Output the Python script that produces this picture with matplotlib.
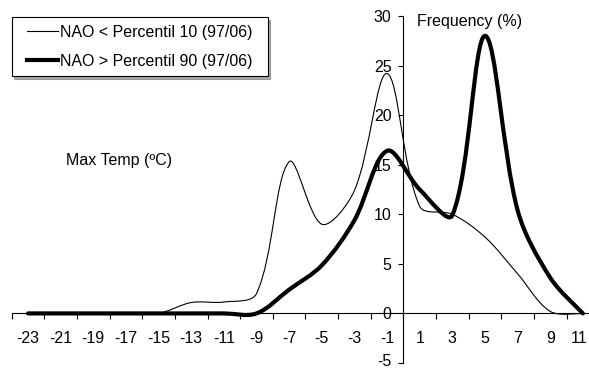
import matplotlib
matplotlib.use("Agg")
import matplotlib.pyplot as plt
import numpy as np
from matplotlib.path import Path
from matplotlib.patches import PathPatch
from matplotlib.lines import Line2D
from matplotlib.legend_handler import HandlerLine2D
from matplotlib.transforms import ScaledTranslation

plt.rcParams['font.family'] = ['Liberation Sans', 'DejaVu Sans']

# ---- data ----
temps = [-23, -21, -19, -17, -15, -13, -11, -9, -7, -5, -3, -1, 1, 3, 5, 7, 9, 11]
nao_low = [0, 0, 0, 0, 0, 1.1, 1.15, 2.0, 15.3, 9.0, 12.4, 24.2, 10.8, 10.0, 7.7, 4.0, 0.2, 0]
nao_high = [0, 0, 0, 0, 0, 0, 0, 0, 2.4, 4.85, 9.4, 16.4, 12.5, 9.9, 28.0, 10.4, 3.6, 0]
label_low = "NAO < Percentil 10 (97/06)"
label_high = "NAO > Percentil 90 (97/06)"
yticks = [-5, 0, 5, 10, 15, 20, 25, 30]
xlabels = temps
xtick_marks = list(range(-24, 12, 2))

FS = 11.5


def smooth_path(ax, xs, ys):
    """Excel-style smoothed line: cubic Bezier through every data point, with
    tangents weighted by the on-screen lengths of the neighbouring segments."""
    pts = ax.transData.transform(np.column_stack([xs, ys]).astype(float))
    n = len(pts)
    seg = np.hypot(*np.diff(pts, axis=0).T)
    verts = [pts[0]]
    codes = [Path.MOVETO]
    for i in range(n - 1):
        p0 = pts[max(i - 1, 0)]
        p1, p2 = pts[i], pts[i + 1]
        p3 = pts[min(i + 2, n - 1)]
        lp = seg[i - 1] if i > 0 else 0.0
        lc = seg[i]
        ln = seg[i + 1] if i + 2 < n else 0.0
        f1 = lc / (lp + lc) / 3 if lp + lc > 0 else 0
        f2 = lc / (lc + ln) / 3 if lc + ln > 0 else 0
        if i == 0:
            f1 = 1 / 6
        if i + 2 >= n:
            f2 = 1 / 6
        c1 = p1 + (p2 - p0) * f1
        c2 = p2 - (p3 - p1) * f2
        verts += [c1, c2, p2]
        codes += [Path.CURVE4] * 3
    verts = ax.transData.inverted().transform(np.array(verts))
    return Path(verts, codes)


W, H = 589, 369
fig = plt.figure(figsize=(W / 100, H / 100), dpi=100)
x_left_px = 11.7
unit_px = 16.32
xmin = -24
xmax = xmin + (W - x_left_px) / unit_px
y_top_px, y_bot_px = 16, 363
ax = fig.add_axes([x_left_px / W, (H - y_bot_px) / H, 1 - x_left_px / W, (y_bot_px - y_top_px) / H])
ax.set_xlim(xmin, xmax)
ax.set_ylim(-5, 30)

ax.add_patch(PathPatch(smooth_path(ax, temps, nao_low), fill=False, edgecolor='black', lw=0.8,
                       capstyle='round', joinstyle='round'))
ax.add_patch(PathPatch(smooth_path(ax, temps, nao_high), fill=False, edgecolor='black', lw=3.0,
                       capstyle='round', joinstyle='round'))

# spines: axes cross at (0, 0)
for s in ['top', 'right']:
    ax.spines[s].set_visible(False)
ax.spines['bottom'].set_position(('data', 0))
ax.spines['left'].set_position(('data', 0))
ax.spines['bottom'].set_linewidth(0.8)
ax.spines['left'].set_linewidth(0.8)

# y axis
ax.set_yticks(yticks)
ax.set_yticklabels([str(v) for v in yticks])
ax.tick_params(axis='y', direction='out', length=3.6, width=0.8, pad=5.0, labelsize=FS)

# x axis: tick marks at even numbers, labels at odd numbers (between marks)
ax.set_xticks(xtick_marks)
ax.set_xticklabels([''] * len(xtick_marks))
ax.set_xticks(xlabels, minor=True)
ax.set_xticklabels([str(v) for v in xlabels], minor=True)
ax.tick_params(axis='x', which='major', direction='out', length=4.5, width=0.8)
ax.tick_params(axis='x', which='minor', length=0, pad=12.5, labelsize=FS)

# keep edge labels inside the canvas
yt0 = ax.yaxis.get_major_ticks()[0].label1
yt0.set_transform(yt0.get_transform() + ScaledTranslation(0, 3.5 / 100, fig.dpi_scale_trans))
xtl = ax.xaxis.get_minor_ticks()[-1].label1
xtl.set_transform(xtl.get_transform() + ScaledTranslation(-4 / 100, 0, fig.dpi_scale_trans))

# texts
fig.text(417 / W, 1 - 21.5 / H, "Frequency (%)", fontsize=FS, ha='left', va='center')
fig.text(66.5 / W, 1 - 160 / H, "Max Temp (ºC)", fontsize=FS, ha='left', va='center')

fs_px = FS * 100 / 72
pad_px = 7.6
handles = [Line2D([], [], color='black', lw=0.8), Line2D([], [], color='black', lw=3.0)]
leg = ax.legend(handles, [label_low, label_high], loc='upper left', mode='expand',
                bbox_to_anchor=(11.7 / W, 1 - 76 / H, 256 / W, 58.7 / H),
                bbox_transform=fig.transFigure,
                fontsize=FS, frameon=True, fancybox=False,
                shadow={'color': '0.45', 'alpha': 0.6},
                handlelength=(58.3 - 11.7 - pad_px) / fs_px,
                handletextpad=0.1, borderpad=pad_px / fs_px, labelspacing=0.86,
                borderaxespad=0,
                handler_map={Line2D: HandlerLine2D(xpad=(26.7 - 11.7 - pad_px) / fs_px)})
leg.get_frame().set_edgecolor('black')
leg.get_frame().set_linewidth(0.8)

fig.savefig("out.png", dpi=100)
